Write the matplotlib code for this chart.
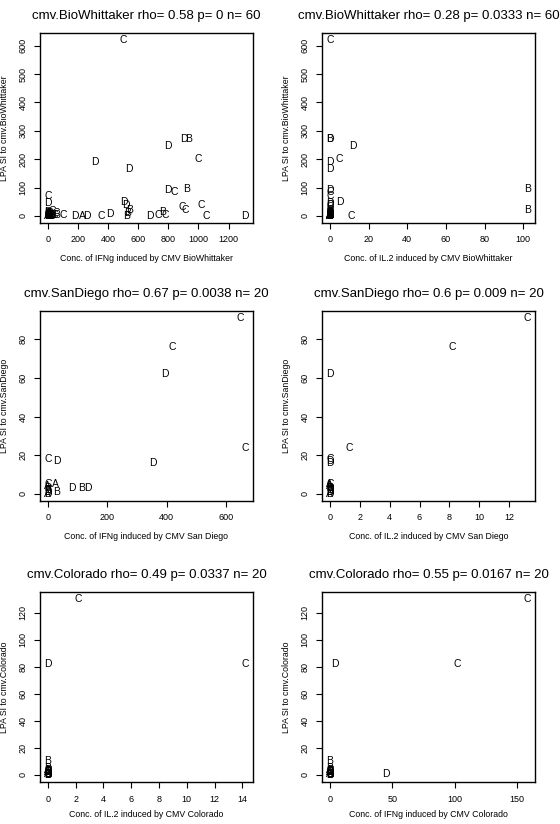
import matplotlib
matplotlib.use("Agg")
import matplotlib.pyplot as plt

plt.rcParams['font.family'] = ['Liberation Sans', 'DejaVu Sans']

# BioWhittaker (n = 60)
bw_letter = (list("DDDDBCDCBDDBCCCBBDCDADCDCBCCDCDCBCBDC") + ["C"]
             + list("ABCDABCDBCDABCDBCDABCD"))
bw_ifng = [310, 535, 800, 905, 935, 1000, 800, 840, 920, 505, 520, 545, 890, 910, 1020,
           530, 525, 410, 355, 180, 230, 260, 100, 680, 735, 760, 780, 1050, 1310, 0,
           0, 30, 0, 55, 60, 10, 45, 500,
           0, 2, 5, 0, 8, 12, 3, 15, 0, 20, 6, 4, 10, 0, 18, 25, 0, 2, 14, 0, 8, 0]
bw_il2 = [0, 0, 12, 0, 0, 5, 0, 0, 102, 5, 0, 102, 0, 0, 0,
          0, 0, 0, 0, 0, 0, 0, 0, 0, 0, 0, 0, 11, 0, 0,
          0, 0, 0, 0, 0, 0, 0, 0,
          0, 0, 0, 0, 0, 0, 0, 0, 0, 0, 0, 0, 0, 0, 0, 0, 0, 0, 0, 0, 0, 0]
bw_lpa = [190, 165, 245, 270, 270, 200, 90, 85, 95, 50, 40, 20, 30, 22, 40,
          10, 0, 8, 0, 0, 0, 0, 2, 0, 5, 15, 2, 0, 0, 70,
          45, 18, 15, 10, 5, 10, 3, 620,
          0, 3, 6, 2, 1, 0, 8, 4, 1, 2, 0, 5, 7, 3, 1, 0, 0, 6, 3, 9, 4, 0]

# San Diego (n = 20)
sd_letter = list("CCDCDCDCADBDBABCDABD")
sd_ifng = [650, 420, 395, 665, 355, 0, 30, 0, 25, 80, 115, 135, 30, 0, 0, 0, 0, 0, 0, 0]
sd_il2 = [13.2, 8.2, 0, 1.3, 0, 0, 0, 0, 0, 0, 0, 0, 0, 0, 0, 0, 0, 0, 0, 0]
sd_lpa = [91, 76, 62, 24, 16, 18, 17, 5, 5, 3, 3, 3, 1, 4, 3, 2, 1, 0, 2, 0]

# Colorado (n = 20)
co_letter = list("CDCBDBCDABCDABCDABCD")
co_il2 = [2.2, 0, 14.2, 0, 0, 0, 0, 0, 0, 0, 0, 0, 0, 0, 0, 0, 0, 0, 0, 0]
co_ifng = [158, 4, 102, 0, 45, 0, 0, 0, 0, 0, 0, 0, 0, 0, 0, 0, 0, 0, 0, 0]
co_lpa = [130, 82, 82, 10, 1, 5, 4, 3, 2, 1, 0, 2, 1, 3, 1, 0, 4, 2, 3, 0]

panels = [
    (bw_ifng, bw_lpa, bw_letter, "cmv.BioWhittaker rho= 0.58 p= 0 n= 60",
     "Conc. of IFNg induced by CMV BioWhittaker", "LPA SI to cmv.BioWhittaker",
     range(0, 1201, 200), range(0, 601, 100)),
    (bw_il2, bw_lpa, bw_letter, "cmv.BioWhittaker rho= 0.28 p= 0.0333 n= 60",
     "Conc. of IL.2 induced by CMV BioWhittaker", "LPA SI to cmv.BioWhittaker",
     range(0, 101, 20), range(0, 601, 100)),
    (sd_ifng, sd_lpa, sd_letter, "cmv.SanDiego rho= 0.67 p= 0.0038 n= 20",
     "Conc. of IFNg induced by CMV San Diego", "LPA SI to cmv.SanDiego",
     range(0, 601, 200), range(0, 81, 20)),
    (sd_il2, sd_lpa, sd_letter, "cmv.SanDiego rho= 0.6 p= 0.009 n= 20",
     "Conc. of IL.2 induced by CMV San Diego", "LPA SI to cmv.SanDiego",
     range(0, 13, 2), range(0, 81, 20)),
    (co_il2, co_lpa, co_letter, "cmv.Colorado rho= 0.49 p= 0.0337 n= 20",
     "Conc. of IL.2 induced by CMV Colorado", "LPA SI to cmv.Colorado",
     range(0, 15, 2), range(0, 121, 20)),
    (co_ifng, co_lpa, co_letter, "cmv.Colorado rho= 0.55 p= 0.0167 n= 20",
     "Conc. of IFNg induced by CMV Colorado", "LPA SI to cmv.Colorado",
     range(0, 151, 50), range(0, 121, 20)),
]

fig = plt.figure(figsize=(5.6, 8.24), dpi=100)
lefts = [40 / 560, 322 / 560]
bottoms = [1 - 223 / 824, 1 - 501 / 824, 1 - 782 / 824]
w, h = 213 / 560, 190 / 824

for i, (x, y, lab, title, xlabel, ylabel, xt, yt) in enumerate(panels):
    ax = fig.add_axes([lefts[i % 2], bottoms[i // 2], w, h])
    for xi, yi, li in zip(x, y, lab):
        ax.text(xi, yi, li, ha="center", va="center", fontsize=7.5)
    # R-style 4% padding around the data range
    xr = max(x) - min(x)
    yr = max(y) - min(y)
    ax.set_xlim(min(x) - 0.04 * xr, max(x) + 0.04 * xr)
    ax.set_ylim(min(y) - 0.04 * yr, max(y) + 0.04 * yr)
    ax.set_xticks(list(xt))
    ax.set_yticks(list(yt))
    ax.tick_params(direction="out", length=4, width=0.8, labelsize=6.5, pad=5)
    for lbl in ax.get_yticklabels():
        lbl.set_rotation(90)
        lbl.set_va("center")
    for s in ax.spines.values():
        s.set_linewidth(1.0)
    ax.set_title(title, fontsize=9.5, pad=10)
    ax.set_xlabel(xlabel, fontsize=6.3, labelpad=7 if i < 4 else 5)
    ax.set_ylabel(ylabel, fontsize=6.3, labelpad=7)

fig.savefig("out.png", dpi=100)
